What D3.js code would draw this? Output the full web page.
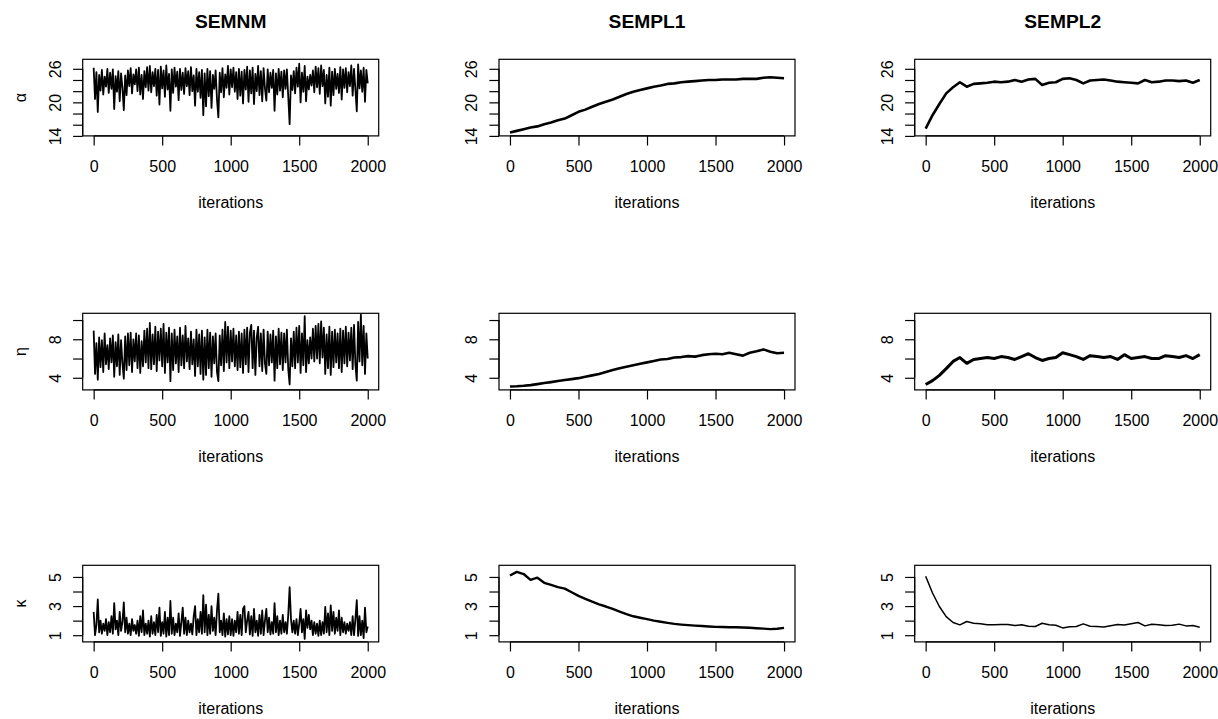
<!DOCTYPE html>
<html>
<head>
<meta charset="utf-8">
<script src="https://cdn.jsdelivr.net/npm/d3@7"></script>
<style>
  body { margin: 0; background: #fff; }
  svg text { font-family: "Liberation Sans", Arial, Helvetica, sans-serif; fill: #000; }
</style>
</head>
<body>
<div id="chart"></div>
<script>
'use strict';

// ---- data: trace values ----
const methods = ['SEMNM', 'SEMPL1', 'SEMPL2'];
const params = ['α', 'η', 'κ'];
const xTicks = [0, 500, 1000, 1500, 2000];

// y axes (tick marks and the labels R kept)
const alphaTicks = [14, 16, 18, 20, 22, 24, 26];
const alphaLabels = [14, 20, 26];
const etaTicks = [4, 6, 8, 10];
const etaLabels = [4, 8];
const kappaTicks = [1, 2, 3, 4, 5];
const kappaLabels = [1, 3, 5];
const alphaRange = [14, 27.7];
const etaRange = [2.74, 10.7];
const kappaRange = [0.54, 5.8];

// SEMNM, one value every 10 iterations
const nmStep = 10;
const nmAlpha = [
  26.2, 20.6, 25.4, 18.3, 24.9, 22.1, 25.8, 21.4, 24.6, 22.8, 26.0, 21.7, 25.3, 22.4, 25.9, 18.8, 24.7, 21.9, 25.6, 20.2,
  25.2, 22.6, 18.6, 24.8, 21.3, 25.7, 22.9, 26.1, 21.6, 25.0, 23.2, 25.9, 22.0, 26.2, 21.4, 24.9, 20.6, 25.6, 22.7, 26.3,
  22.1, 26.5, 21.8, 25.4, 22.9, 26.0, 21.2, 25.8, 19.6, 26.4, 22.5, 25.7, 21.0, 26.6, 22.3, 25.1, 18.5, 25.9, 21.7, 26.2,
  22.8, 25.5, 20.4, 26.0, 22.2, 25.3, 21.5, 26.1, 22.9, 25.6, 21.3, 26.3, 22.0, 24.8, 19.4, 26.0, 21.9, 25.4, 20.8, 25.8,
  17.7, 25.2, 19.3, 26.0, 21.1, 25.6, 19.0, 24.9, 22.4, 25.7, 20.5, 17.3, 25.3, 21.8, 26.1, 20.9, 25.0, 22.6, 26.5, 21.4,
  25.9, 22.7, 26.2, 21.9, 25.4, 20.6, 26.0, 21.2, 25.5, 19.8, 25.8, 22.3, 26.4, 20.1, 25.7, 21.6, 26.2, 19.7, 25.1, 22.0,
  26.5, 21.3, 25.6, 20.2, 26.1, 22.5, 20.3, 25.9, 21.8, 25.3, 22.6, 25.8, 18.5, 25.2, 21.4, 26.0, 22.1, 25.5, 20.9, 25.7,
  22.4, 25.9, 21.0, 16.1, 24.8, 22.2, 25.6, 21.6, 26.2, 22.8, 26.9, 20.0, 25.3, 21.9, 26.5, 20.2, 24.6, 22.3, 24.9, 23.0,
  25.7, 21.8, 26.4, 22.7, 26.1, 21.5, 26.6, 22.9, 25.8, 19.8, 24.9, 21.0, 26.2, 19.4, 25.5, 21.3, 26.0, 22.4, 25.1, 21.7,
  26.3, 20.5, 25.9, 22.6, 26.1, 21.8, 25.4, 22.9, 26.6, 21.2, 26.0, 22.3, 18.4, 26.8, 22.5, 25.7, 21.9, 26.2, 20.1, 25.8,
  23.4
];
const nmEta = [
  8.9, 4.4, 7.6, 3.8, 8.2, 5.1, 7.9, 4.6, 8.6, 5.4, 7.4, 4.9, 8.1, 5.6, 8.4, 4.1, 7.7, 5.2, 8.5, 4.3,
  7.9, 5.5, 3.9, 8.3, 4.8, 8.6, 5.3, 8.7, 4.6, 8.0, 5.7, 8.6, 5.0, 8.4, 4.5, 7.8, 5.2, 8.9, 5.6, 9.1,
  5.0, 9.7, 4.9, 8.5, 5.4, 9.3, 4.7, 8.8, 5.8, 9.1, 5.2, 9.6, 4.5, 8.7, 5.6, 9.2, 3.65, 8.6, 4.8, 9.0,
  5.5, 8.3, 4.6, 9.2, 5.3, 8.4, 5.0, 9.4, 5.7, 8.1, 4.9, 8.8, 5.4, 8.0, 4.2, 9.0, 5.2, 8.5, 4.4, 8.9,
  3.8, 8.2, 4.3, 9.0, 5.0, 8.7, 4.1, 8.3, 5.5, 8.6, 4.6, 3.65, 8.4, 5.3, 9.0, 4.7, 9.8, 5.6, 9.3, 5.0,
  8.9, 5.7, 9.1, 5.2, 8.4, 4.8, 8.8, 5.1, 8.6, 4.5, 9.0, 5.4, 9.2, 4.6, 8.7, 9.5, 5.0, 8.9, 4.3, 8.2,
  9.3, 5.2, 8.6, 4.7, 9.0, 5.5, 4.4, 8.8, 5.3, 8.5, 5.6, 8.9, 3.7, 8.3, 5.0, 9.1, 5.4, 8.7, 4.8, 8.6,
  5.6, 9.0, 4.9, 3.3, 8.1, 5.2, 8.8, 5.0, 9.2, 5.6, 9.4, 4.5, 8.6, 5.3, 10.4, 4.6, 7.9, 5.5, 8.2, 6.0,
  9.1, 5.7, 9.4, 6.0, 9.6, 5.5, 9.86, 6.1, 9.2, 4.4, 8.5, 5.0, 9.3, 4.3, 8.8, 5.1, 9.0, 5.6, 8.6, 5.0,
  9.1, 4.6, 8.9, 5.5, 9.3, 5.2, 8.7, 5.8, 9.2, 4.9, 9.5, 5.4, 3.7, 9.8, 5.7, 10.56, 5.3, 9.4, 4.4, 8.6,
  6.0
];
const nmKappa = [
  2.6, 1.0, 1.7, 3.45, 1.2, 2.0, 1.1, 1.8, 1.3, 2.1, 1.0, 1.9, 1.2, 2.3, 1.1, 3.2, 1.4, 2.0, 1.0, 2.6,
  1.3, 1.9, 3.25, 1.2, 2.2, 1.1, 1.8, 1.0, 2.1, 1.3, 1.7, 1.1, 2.0, 0.95, 2.3, 1.2, 2.7, 1.0, 1.8, 1.1,
  2.0, 0.9, 2.3, 1.1, 1.9, 1.0, 2.4, 1.2, 2.9, 0.95, 1.9, 1.1, 2.6, 0.9, 2.2, 1.0, 3.35, 1.1, 2.2, 1.0,
  1.8, 1.2, 2.5, 0.95, 1.9, 2.9, 1.1, 2.2, 1.0, 2.0, 1.2, 1.8, 1.05, 2.3, 3.0, 1.0, 2.1, 1.2, 2.6, 1.1,
  3.75, 1.2, 3.1, 1.0, 2.4, 1.1, 3.0, 1.3, 2.2, 1.0, 2.7, 3.85, 1.2, 2.0, 1.0, 2.5, 0.9, 2.1, 1.05, 2.3,
  1.0, 2.1, 0.95, 2.0, 1.2, 2.6, 1.1, 2.4, 1.0, 2.8, 3.0, 1.2, 2.0, 2.6, 1.05, 2.3, 0.95, 2.8, 1.2, 2.0,
  0.95, 2.4, 1.1, 2.7, 1.0, 2.0, 2.8, 1.2, 2.2, 1.05, 1.9, 1.1, 3.2, 1.2, 2.3, 1.0, 2.0, 1.1, 2.4, 1.2,
  1.9, 1.1, 2.4, 4.3, 2.1, 1.2, 2.0, 1.1, 2.1, 1.0, 1.8, 2.8, 1.2, 2.1, 0.75, 2.7, 1.5, 2.4, 1.4, 2.0,
  1.0, 1.9, 1.1, 1.8, 0.95, 2.0, 1.0, 1.9, 1.1, 2.95, 1.2, 2.5, 1.0, 3.05, 1.3, 2.6, 1.1, 2.2, 1.3, 2.7,
  1.0, 2.2, 1.2, 1.9, 1.1, 1.8, 1.3, 1.9, 1.0, 2.3, 1.0, 2.1, 3.4, 0.95, 2.3, 1.0, 2.0, 0.8, 2.9, 1.2,
  1.6
];

// SEMPL1 / SEMPL2, one value every 50 iterations
const plStep = 50;
const pl1Alpha = [
  14.6, 14.9, 15.2, 15.5, 15.7, 16.1, 16.4, 16.8, 17.1, 17.7, 18.3, 18.7, 19.2, 19.7, 20.1, 20.5, 21.0, 21.5, 21.9, 22.2,
  22.5, 22.8, 23.0, 23.3, 23.4, 23.6, 23.7, 23.8, 23.9, 24.0, 24.0, 24.1, 24.1, 24.1, 24.2, 24.2, 24.2, 24.4, 24.5, 24.4,
  24.3
];
const pl2Alpha = [
  15.3, 17.7, 19.7, 21.6, 22.7, 23.6, 22.8, 23.3, 23.4, 23.5, 23.7, 23.6, 23.7, 24.0, 23.7, 24.1, 24.2, 23.1, 23.5, 23.6,
  24.2, 24.3, 24.0, 23.4, 23.9, 24.0, 24.1, 23.9, 23.7, 23.6, 23.5, 23.4, 24.0, 23.6, 23.7, 23.9, 23.9, 23.8, 23.9, 23.5,
  24.0
];
const pl1Eta = [
  3.09, 3.12, 3.17, 3.24, 3.34, 3.45, 3.55, 3.66, 3.76, 3.86, 3.96, 4.1, 4.25, 4.4, 4.6, 4.8, 5.0, 5.15, 5.3, 5.45,
  5.6, 5.75, 5.9, 5.95, 6.1, 6.15, 6.25, 6.2, 6.35, 6.45, 6.5, 6.45, 6.6, 6.45, 6.3, 6.6, 6.75, 6.95, 6.7, 6.55,
  6.6
];
const pl2Eta = [
  3.3, 3.7, 4.25, 4.95, 5.7, 6.1, 5.5, 5.9, 6.0, 6.1, 6.0, 6.2, 6.1, 5.9, 6.2, 6.5, 6.1, 5.8, 6.0, 6.1,
  6.6, 6.4, 6.2, 5.9, 6.3, 6.2, 6.1, 6.2, 5.9, 6.4, 6.0, 6.1, 6.2, 6.0, 6.0, 6.3, 6.2, 6.1, 6.3, 6.0,
  6.4
];
const pl1Kappa = [
  5.1, 5.35, 5.2, 4.8, 4.95, 4.6, 4.45, 4.3, 4.2, 3.95, 3.7, 3.5, 3.3, 3.12, 2.97, 2.8, 2.62, 2.45, 2.3, 2.2,
  2.1, 2.0, 1.92, 1.85, 1.78, 1.73, 1.69, 1.66, 1.63, 1.6, 1.57, 1.56, 1.55, 1.55, 1.53, 1.51, 1.48, 1.45, 1.42, 1.44,
  1.5
];
const pl2Kappa = [
  5.05, 3.9, 2.97, 2.28, 1.87, 1.71, 1.94, 1.82, 1.78, 1.72, 1.71, 1.74, 1.73, 1.66, 1.72, 1.62, 1.6, 1.82, 1.72, 1.68,
  1.5, 1.58, 1.6, 1.78, 1.62, 1.6, 1.57, 1.65, 1.73, 1.7, 1.78, 1.87, 1.64, 1.75, 1.72, 1.66, 1.68, 1.76, 1.64, 1.66,
  1.55
];

// ---- layout ----
const width = 1218, height = 719;
const boxLeft = [82.7, 499, 914.7];   // one per column
const boxTop = [59.3, 313.3, 565.3];  // one per row
const boxW = 296, boxH = 76.6;

// rows = parameters, columns = methods
const rows = [
  { name: params[0], domain: alphaRange, ticks: alphaTicks, labels: alphaLabels, series: [nmAlpha, pl1Alpha, pl2Alpha] },
  { name: params[1], domain: etaRange, ticks: etaTicks, labels: etaLabels, series: [nmEta, pl1Eta, pl2Eta] },
  { name: params[2], domain: kappaRange, ticks: kappaTicks, labels: kappaLabels, series: [nmKappa, pl1Kappa, pl2Kappa] }
];
const steps = [nmStep, plStep, plStep];
// dense chains in R look like a solid band, so the sparser traces get a heavier pen
const lineWidths = [[1.8, 2.6, 2.6], [1.8, 2.6, 3.0], [1.8, 2.4, 1.5]];

const svg = d3.select('#chart').append('svg')
  .attr('width', width)
  .attr('height', height);
svg.append('rect').attr('width', width).attr('height', height).attr('fill', '#fff');

// x scale follows R's 4% padding of the 0..2000 range
const x = d3.scaleLinear().domain([-80, 2080]).range([0, boxW]);

rows.forEach((row, r) => {
  const y = d3.scaleLinear().domain(row.domain).range([boxH, 0]);

  methods.forEach((method, c) => {
    const g = svg.append('g')
      .attr('transform', `translate(${boxLeft[c]},${boxTop[r]})`);

    // trace
    const step = steps[c];
    g.append('path')
      .datum(row.series[c])
      .attr('fill', 'none')
      .attr('stroke', '#000')
      .attr('stroke-width', lineWidths[r][c])
      .attr('stroke-linejoin', 'round')
      .attr('d', d3.line().x((d, i) => x(i * step)).y(d => y(d)));

    // x axis
    const ax = g.append('g')
      .attr('transform', `translate(0,${boxH})`)
      .call(d3.axisBottom(x).tickValues(xTicks).tickSize(9.6).tickSizeOuter(0).tickPadding(15).tickFormat(d3.format('d')));
    ax.select('.domain').attr('d', `M${x(xTicks[0])},0H${x(xTicks[xTicks.length - 1])}`);

    // y axis, labels turned like R's las = 0
    const ay = g.append('g')
      .call(d3.axisLeft(y).tickValues(row.ticks).tickSize(9.6).tickSizeOuter(0)
        .tickFormat(d => row.labels.includes(d) ? d : ''));
    ay.select('.domain').attr('d', `M0,${y(row.ticks[0])}V${y(row.ticks[row.ticks.length - 1])}`);
    ay.selectAll('.tick text')
      .attr('x', null).attr('dy', null)
      .attr('text-anchor', 'middle')
      .attr('transform', 'translate(-21.7,0) rotate(-90)');

    [ax, ay].forEach(a => {
      a.attr('font-size', 16).attr('font-family', null);
      a.selectAll('line, path').attr('stroke-width', 1.2);
    });

    // frame
    g.append('rect')
      .attr('width', boxW).attr('height', boxH)
      .attr('fill', 'none').attr('stroke', '#000').attr('stroke-width', 1.2);

    g.append('text')
      .attr('x', boxW / 2).attr('y', boxH + 72.5)
      .attr('text-anchor', 'middle')
      .attr('font-size', 16)
      .text('iterations');

    if (r === 0) {
      g.append('text')
        .attr('x', boxW / 2).attr('y', -31.6)
        .attr('text-anchor', 'middle')
        .attr('font-size', 19.2).attr('font-weight', 'bold')
        .text(method);
    }
    if (c === 0) {
      g.append('text')
        .attr('transform', `translate(-62,${boxH / 2}) rotate(-90)`)
        .attr('text-anchor', 'middle')
        .attr('dominant-baseline', 'central')
        .attr('font-size', 16)
        .text(row.name);
    }
  });
});
</script>
</body>
</html>
